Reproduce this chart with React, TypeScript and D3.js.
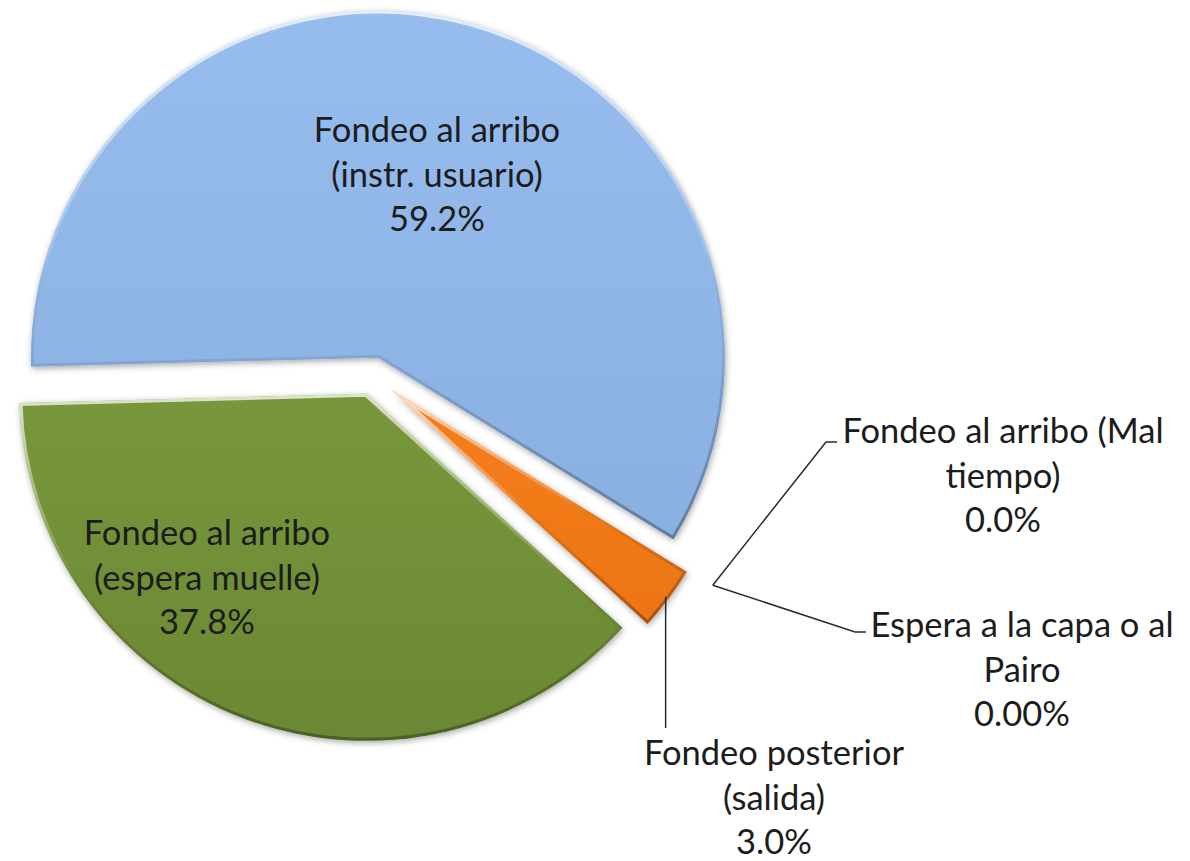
import React from 'react'
import * as d3 from 'd3'

// slice data, in drawing order (clockwise from the left edge)
const categories = [
  'Fondeo al arribo (instr. usuario)',
  'Fondeo al arribo (Mal tiempo)',
  'Espera a la capa o al Pairo',
  'Fondeo posterior (salida)',
  'Fondeo al arribo (espera muelle)'
]
const values = [59.2, 0.0, 0.0, 3.0, 37.8]
const valueLabels = ['59.2%', '0.0%', '0.00%', '3.0%', '37.8%']
const labelLines = [
  ['Fondeo al arribo', '(instr. usuario)'],
  ['Fondeo al arribo (Mal', 'tiempo)'],
  ['Espera a la capa o al', 'Pairo'],
  ['Fondeo posterior', '(salida)'],
  ['Fondeo al arribo', '(espera muelle)']
]

const colors = ['#96BDED', '#C0504D', '#8064A2', '#F5801F', '#78973B']
const darkColors = ['#8AB0E2', '#A0403D', '#6A5288', '#EC7412', '#6B8834']

const W = 1190
const H = 861
const cx = 373
const cy = 376
const R = 347
const explode = [19, 19, 19, 23, 19]
const fontSize = 34.5
const lineGap = 44.5

// label anchors (centre x, first baseline)
const labelPos = [
  { x: 437, y: 142 },
  { x: 1003, y: 443 },
  { x: 1022, y: 637 },
  { x: 774, y: 765 },
  { x: 207, y: 545 }
]

export default function App() {
  const pie = d3
    .pie<number>()
    .sort(null)
    .value(d => d)
    .startAngle((-91.5 * Math.PI) / 180)
    .endAngle((268.5 * Math.PI) / 180)
  const arcs = pie(values)
  const arc = d3.arc<d3.PieArcDatum<number>>().innerRadius(0).outerRadius(R)

  const offset = (a: d3.PieArcDatum<number>, i: number) => {
    const mid = (a.startAngle + a.endAngle) / 2
    return [Math.sin(mid) * explode[i], -Math.cos(mid) * explode[i]]
  }

  // leader lines for the small / empty slices
  const leaders: string[] = []
  arcs.forEach((a, i) => {
    const [ox, oy] = offset(a, i)
    const mid = (a.startAngle + a.endAngle) / 2
    if (i === 1 || i === 2) {
      const r = R + 33
      const sx = cx + ox + Math.sin(mid) * r
      const sy = cy + oy - Math.cos(mid) * r
      const bend = i === 1 ? [[826, 442], [837, 442]] : [[855, 632], [866, 632]]
      leaders.push(d3.line()([[sx, sy], ...(bend as [number, number][])]) || '')
    }
    if (i === 3) {
      const r = R * 0.99
      const sx = cx + ox + Math.sin(mid) * r
      const sy = cy + oy - Math.cos(mid) * r
      leaders.push(d3.line()([[sx, sy], [sx, 728]]) || '')
    }
  })

  return (
    <svg
      width={W}
      height={H}
      style={{ position: 'absolute', left: 0, top: 0, background: '#fff' }}
      fontFamily="Lato, 'Open Sans', sans-serif"
    >
      <defs>
        <filter id="shadow" x="-10%" y="-10%" width="120%" height="120%">
          <feDropShadow dx="1" dy="2" stdDeviation="3" floodColor="#000" floodOpacity="0.35" />
        </filter>
        <linearGradient id="rimLight" x1="0" y1="0" x2="0" y2="1">
          <stop offset="0%" stopColor="#fff" stopOpacity="0.75" />
          <stop offset="45%" stopColor="#fff" stopOpacity="0.15" />
          <stop offset="60%" stopColor="#000" stopOpacity="0.05" />
          <stop offset="100%" stopColor="#000" stopOpacity="0.3" />
        </linearGradient>
        {arcs.map((a, i) => (
          <linearGradient key={i} id={`fill-${i}`} x1="0" y1="0" x2="0" y2="1">
            <stop offset="0%" stopColor={colors[i]} />
            <stop offset="100%" stopColor={darkColors[i]} />
          </linearGradient>
        ))}
        {arcs.map((a, i) => (
          <clipPath key={i} id={`clip-${i}`}>
            <path d={arc(a) || ''} />
          </clipPath>
        ))}
      </defs>

      {arcs.map((a, i) => {
        if (a.value <= 0) return null
        const [ox, oy] = offset(a, i)
        return (
          <g key={categories[i]} transform={`translate(${cx + ox},${cy + oy})`}>
            <path d={arc(a) || ''} fill={`url(#fill-${i})`} filter="url(#shadow)" />
            <path
              d={arc(a) || ''}
              fill="none"
              stroke="url(#rimLight)"
              strokeWidth={6}
              strokeLinejoin="round"
              clipPath={`url(#clip-${i})`}
            />
          </g>
        )
      })}

      {leaders.map((d, i) => (
        <path key={i} d={d} fill="none" stroke="#2a2a2a" strokeWidth={1.5} />
      ))}

      {categories.map((c, i) => (
        <text
          key={c}
          x={labelPos[i].x}
          y={labelPos[i].y}
          textAnchor="middle"
          fontSize={fontSize}
          fill="#1c1c1c"
        >
          {[...labelLines[i], valueLabels[i]].map((t, j) => (
            <tspan key={j} x={labelPos[i].x} y={labelPos[i].y + j * lineGap}>
              {t}
            </tspan>
          ))}
        </text>
      ))}
    </svg>
  )
}
